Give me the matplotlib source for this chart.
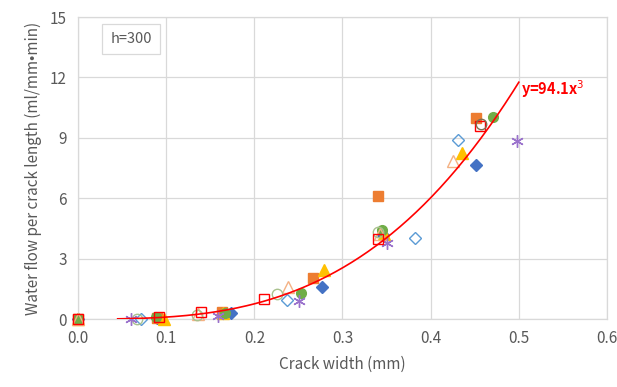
import matplotlib
matplotlib.use("Agg")
import matplotlib.pyplot as plt
import numpy as np

plt.rcParams['font.family'] = ['Noto Sans CJK KR', 'DejaVu Sans']

# Data series (crack width mm, water flow ml/mm/min)
s1_x = [0.0, 0.09, 0.173, 0.277, 0.346, 0.451]          # blue filled diamond
s1_y = [0.0, 0.05, 0.30, 1.57, 4.17, 7.65]
s2_x = [0.0, 0.09, 0.163, 0.266, 0.34, 0.451]           # orange filled square
s2_y = [0.0, 0.05, 0.35, 2.05, 6.13, 9.97]
s3_x = [0.0, 0.098, 0.165, 0.279, 0.347, 0.436]         # gold filled triangle
s3_y = [0.0, 0.0, 0.30, 2.43, 4.20, 8.23]
s4_x = [0.0, 0.089, 0.167, 0.253, 0.345, 0.471]         # green filled circle
s4_y = [0.0, 0.10, 0.30, 1.28, 4.42, 10.05]
s5_x = [0.071, 0.237, 0.382, 0.431]                     # light blue open diamond
s5_y = [0.0, 0.94, 4.02, 8.89]
s6_x = [0.0, 0.136, 0.238, 0.343, 0.425]                # light orange open triangle
s6_y = [0.0, 0.25, 1.57, 4.20, 7.86]
s7_x = [0.067, 0.135, 0.226, 0.34]                      # light green open circle
s7_y = [0.0, 0.20, 1.24, 4.34]
s8_x = [0.06, 0.159, 0.251, 0.35, 0.498]                # purple asterisk
s8_y = [0.0, 0.15, 0.91, 3.76, 8.86]
s9_x = [0.0, 0.092, 0.139, 0.211, 0.34, 0.456]          # red open square
s9_y = [0.0, 0.10, 0.36, 0.98, 3.97, 9.59]
s10_x = [0.457]                                         # dark olive open circle
s10_y = [9.67]

fit_coef = 94.1
fit_x_range = (0.045, 0.5)

x_ticks = [0.0, 0.1, 0.2, 0.3, 0.4, 0.5, 0.6]
y_ticks = [0, 3, 6, 9, 12, 15]

fig = plt.figure(figsize=(6.17, 3.87), dpi=100)
ax = fig.add_axes([0.1264, 0.1757, 0.8574, 0.7803])

grid_c = '#D9D9D9'
ax.set_axisbelow(True)
ax.grid(True, color=grid_c, linewidth=0.9)
for sp in ax.spines.values():
    sp.set_color(grid_c)
    sp.set_linewidth(0.9)

ms = 7
kw = dict(ls='none', clip_on=False, zorder=3)
ax.plot(s1_x, s1_y, 'D', color='#4472C4', ms=6, **kw)
ax.plot(s2_x, s2_y, 's', color='#ED7D31', ms=6.5, **kw)
ax.plot(s3_x, s3_y, '^', color='#FFC000', ms=8, **kw)
ax.plot(s4_x, s4_y, 'o', color='#70AD47', ms=7, **kw)
ax.plot(s5_x, s5_y, 'D', mfc='none', mec='#5B9BD5', ms=6, mew=1, **kw)
ax.plot(s6_x, s6_y, '^', mfc='none', mec='#F4B183', ms=8, mew=1, **kw)
ax.plot(s7_x, s7_y, 'o', mfc='none', mec='#A9C18E', ms=7.5, mew=1, **kw)
ax.plot(s8_x, s8_y, marker=(6, 2, 0), color='#9A72CC', ms=9, mew=1, **kw)
ax.plot(s9_x, s9_y, 's', mfc='none', mec='#FF0000', ms=7, mew=1, **kw)
ax.plot(s10_x, s10_y, 'o', mfc='none', mec='#7F6F50', ms=7.5, mew=1, **kw)

xf = np.linspace(fit_x_range[0], fit_x_range[1], 200)
ax.plot(xf, fit_coef * xf**3, color='#FF0000', lw=1.2, zorder=4)

ax.text(0.503, 11.4, 'y=94.1x$^{3}$', color='#FF0000', fontsize=10.5,
        fontweight='bold', ha='left', va='center')

ax.text(0.06, 13.9, 'h=300', color='#595959', fontsize=10.5, ha='center', va='center',
        bbox=dict(boxstyle='square,pad=0.55', fc='white', ec='#D9D9D9', lw=0.9))

ax.set_xlim(0, 0.6)
ax.set_ylim(0, 15)
ax.set_xticks(x_ticks)
ax.set_xticklabels([f'{v:.1f}' for v in x_ticks])
ax.set_yticks(y_ticks)
ax.tick_params(axis='both', length=0, colors='#595959', labelsize=11, pad=8)
ax.set_xlabel('Crack width (mm)', color='#595959', fontsize=11, labelpad=6)
ax.set_ylabel('Water flow per crack length (ml/mm•min)', color='#595959', fontsize=11, labelpad=6)

fig.savefig('out.png', dpi=100)
